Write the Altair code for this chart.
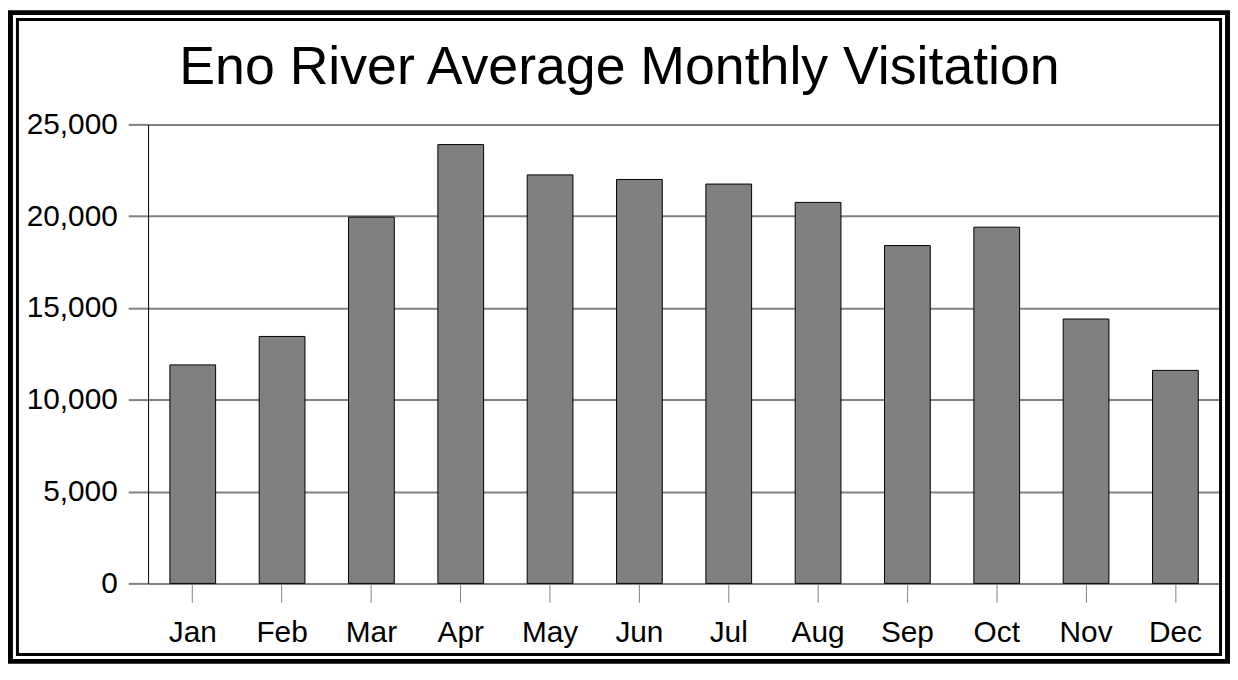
import altair as alt
import pandas as pd

months = ["Jan", "Feb", "Mar", "Apr", "May", "Jun", "Jul", "Aug", "Sep", "Oct", "Nov", "Dec"]
visits = [11900, 13450, 19950, 23900, 22250, 22000, 21750, 20750, 18400, 19400, 14400, 11600]
y_ticks = [0, 5000, 10000, 15000, 20000, 25000]
title_text = "Eno River Average Monthly Visitation"

FONT = "Liberation Sans"
W, H = 1079, 462
PL, PT, PR = 141, 115, 10
SVG_H = 658

df = pd.DataFrame({"month": months, "visits": visits})
one = pd.DataFrame({"t": [title_text]})

bars = alt.Chart(df).mark_bar(
    color="#808080", stroke="#000000", strokeWidth=1
).encode(
    x=alt.X("month:N", sort=months, title=None,
            scale=alt.Scale(paddingInner=0.488, paddingOuter=0.244),
            axis=alt.Axis(domain=False, ticks=True, tickColor="#808080", tickWidth=1,
                          tickSize=19, labelFont=FONT, labelFontSize=30,
                          labelColor="#000000", labelPadding=15, labelAngle=0,
                          grid=False)),
    y=alt.Y("visits:Q", title=None,
            scale=alt.Scale(domain=[0, 25000], nice=False),
            axis=alt.Axis(values=y_ticks, format=",.0f", domain=True, domainColor="#000000",
                          domainWidth=1, grid=True, gridColor="#808080", gridWidth=2,
                          gridOpacity=1, ticks=True, tickColor="#808080", tickWidth=2,
                          tickSize=20, labelFont=FONT, labelFontSize=30,
                          labelColor="#000000", labelPadding=11)),
)

title = alt.Chart(one).mark_text(
    font=FONT, fontSize=54, color="#000000", align="center", baseline="alphabetic"
).encode(text="t:N", x=alt.value(474.5), y=alt.value(-41))

outer = alt.Chart(one).mark_rect(
    fillOpacity=0, stroke="#000000", strokeWidth=5
).encode(x=alt.value(-PL + 2.5), x2=alt.value(W + PR - 2.5),
         y=alt.value(-PT + 2.5), y2=alt.value(SVG_H - PT - 2.5))

inner = alt.Chart(one).mark_rect(
    fillOpacity=0, stroke="#000000", strokeWidth=3
).encode(x=alt.value(-PL + 9.5), x2=alt.value(W + 0.5),
         y=alt.value(-PT + 9.5), y2=alt.value(SVG_H - PT - 9.5))

chart = alt.layer(bars, title, outer, inner).properties(
    width=W, height=H,
    autosize=alt.AutoSizeParams(type="none"),
    padding={"left": PL, "top": PT, "right": PR, "bottom": SVG_H - PT - H},
    background="#ffffff",
).configure_view(stroke=None)

chart.save("out.html", embed_options={"renderer": "svg", "actions": False})
